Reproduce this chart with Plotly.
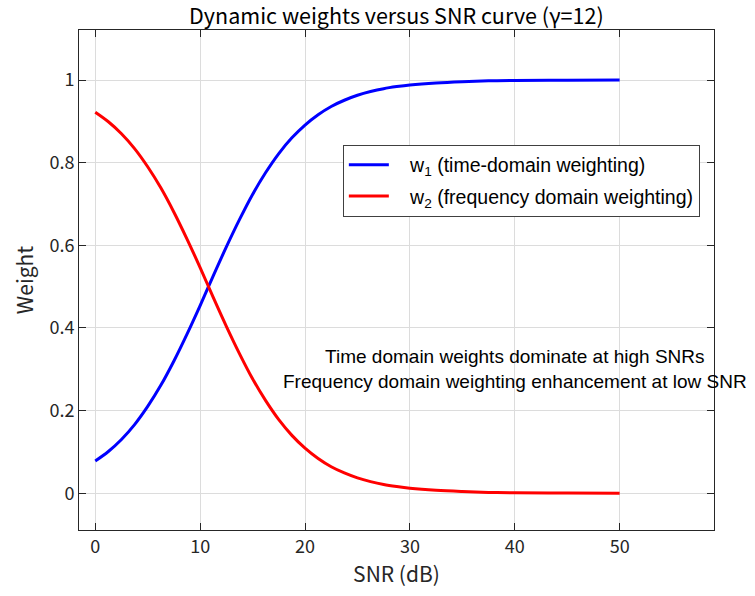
import plotly.graph_objects as go

snr = [0, 1.25, 2.5, 3.75, 5, 6.25, 7.5, 8.75, 10, 11.25, 12.5, 13.75, 15, 16.25, 17.5, 18.75,
       20, 21.25, 22.5, 23.75, 25, 26.25, 27.5, 28.75, 30, 32.5, 35, 37.5, 40, 45, 50]
w1 = [0.078, 0.101, 0.130, 0.166, 0.210, 0.261, 0.320, 0.385, 0.454, 0.526, 0.596, 0.662, 0.723,
      0.776, 0.822, 0.860, 0.891, 0.916, 0.936, 0.951, 0.963, 0.972, 0.979, 0.984, 0.988, 0.993,
      0.996, 0.998, 0.999, 0.9995, 1.0]
w2 = [0.922, 0.899, 0.870, 0.834, 0.790, 0.739, 0.680, 0.615, 0.546, 0.474, 0.404, 0.338, 0.277,
      0.224, 0.178, 0.140, 0.109, 0.084, 0.064, 0.049, 0.037, 0.028, 0.021, 0.016, 0.012, 0.007,
      0.004, 0.002, 0.001, 0.0005, 0.0]

x_ticks = [0, 10, 20, 30, 40, 50]
y_ticks = [0, 0.2, 0.4, 0.6, 0.8, 1]

title_text = "Dynamic weights versus SNR curve (γ=12)"
xlabel = "SNR (dB)"
ylabel = "Weight"
legend_names = ["&nbsp;&nbsp;&nbsp;w<sub>1</sub> (time-domain weighting)",
                "&nbsp;&nbsp;&nbsp;w<sub>2</sub> (frequency domain weighting)"]
note = "Time domain weights dominate at high SNRs<br>Frequency domain weighting enhancement at low SNR"

dark = "#262626"
cjk = "Noto Sans CJK SC"
arial = "Liberation Sans"

fig = go.Figure()
fig.add_trace(go.Scatter(x=snr, y=w1, mode="lines", name=legend_names[0],
                         line=dict(color="#0000ff", width=3, shape="spline"), legendgroup="a"))
fig.add_trace(go.Scatter(x=snr, y=w2, mode="lines", name=legend_names[1],
                         line=dict(color="#ff0000", width=3, shape="spline"), legendgroup="b"))

fig.add_annotation(x=40, y=0.3, xref="x", yref="y", text=note, showarrow=False,
                   align="center", font=dict(family=arial, size=19, color="#000000"))

axis_common = dict(showline=True, mirror="ticks", linecolor=dark, linewidth=1,
                   ticks="inside", ticklen=7, tickcolor=dark, tickwidth=1,
                   showgrid=True, gridcolor="#dcdcdc", gridwidth=1, zeroline=False,
                   tickfont=dict(family=cjk, size=18, color=dark))

fig.update_layout(
    width=755, height=596,
    margin=dict(l=79, r=41, t=30, b=66),
    paper_bgcolor="white", plot_bgcolor="white",
    title=dict(text=title_text, x=0.525, xanchor="center", y=0.972, yanchor="middle",
               font=dict(family=cjk, size=21.5, color="#000000")),
    xaxis=dict(range=[-1.55, 59], tickvals=x_ticks,
               title=dict(text=xlabel, font=dict(family=cjk, size=21, color=dark), standoff=6),
               **axis_common),
    yaxis=dict(range=[-0.089, 1.121], tickvals=y_ticks,
               title=dict(text=ylabel, font=dict(family=cjk, size=21, color=dark), standoff=10),
               **axis_common),
    legend=dict(x=0.4155, y=0.771, xanchor="left", yanchor="top",
                bgcolor="white", bordercolor="#404040", borderwidth=1,
                font=dict(family=arial, size=19.5, color="#000000"),
                tracegroupgap=3, itemwidth=40),
    showlegend=True,
)

fig.write_html("out.html")
